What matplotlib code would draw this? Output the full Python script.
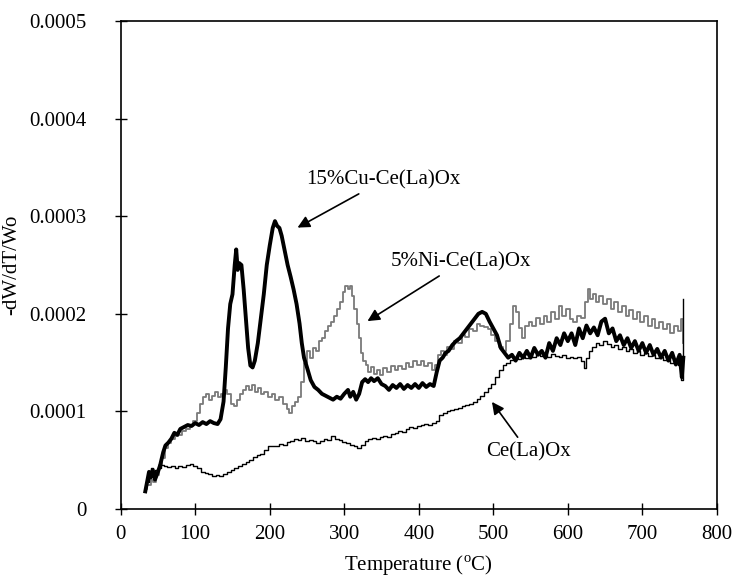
import numpy as np
import matplotlib
matplotlib.use("Agg")
import matplotlib.pyplot as plt

plt.rcParams['font.family'] = ['Liberation Serif', 'DejaVu Serif']
plt.rcParams['mathtext.fontset'] = 'custom'
plt.rcParams['mathtext.rm'] = 'Liberation Serif'

# DTG curves, -dW/dT/Wo in units of 1e-4
cu_T = [33, 36, 38, 40, 43, 46, 50, 53, 57, 60, 64, 68, 72, 76, 80, 85, 90, 95, 100, 105,
        110, 115, 120, 125, 130, 134, 138, 141, 144, 147, 150, 153, 155, 157, 159, 162, 165,
        168, 171, 174, 177, 180, 184, 188, 192, 196, 200, 204, 207, 210, 213, 216, 220, 224,
        228, 232, 236, 240, 243, 246, 250, 255, 260, 265, 270, 275, 280, 285, 290, 295, 300,
        305, 308, 312, 316, 320, 324, 328, 332, 336, 340, 345, 350, 355, 360, 365, 370, 375,
        380, 385, 390, 395, 400, 405, 410, 415, 420, 424, 428, 432, 436, 440, 445, 450, 455,
        460, 465, 470, 475, 480, 485, 490, 495, 500, 505, 510, 515, 520, 525, 530, 535, 540,
        545, 550, 555, 560, 565, 570, 575, 580, 585, 590, 595, 600, 605, 610, 615, 620, 625,
        630, 635, 640, 645, 650, 655, 660, 665, 670, 675, 680, 685, 690, 695, 700, 705, 710,
        715, 720, 725, 730, 735, 740, 745, 750, 753, 755]
cu_y = [0.18, 0.30, 0.38, 0.32, 0.40, 0.30, 0.38, 0.45, 0.58, 0.65, 0.68, 0.72, 0.78, 0.76,
        0.82, 0.84, 0.86, 0.85, 0.88, 0.86, 0.89, 0.87, 0.90, 0.88, 0.87, 0.92, 1.10, 1.45,
        1.85, 2.10, 2.20, 2.50, 2.66, 2.45, 2.52, 2.50, 2.25, 1.95, 1.65, 1.47, 1.45, 1.52,
        1.70, 1.95, 2.20, 2.50, 2.70, 2.88, 2.95, 2.90, 2.88, 2.80, 2.65, 2.50, 2.38, 2.25,
        2.10, 1.90, 1.70, 1.55, 1.45, 1.32, 1.25, 1.22, 1.18, 1.16, 1.14, 1.12, 1.15, 1.13,
        1.18, 1.22, 1.15, 1.20, 1.12, 1.18, 1.30, 1.33, 1.30, 1.34, 1.31, 1.34, 1.28, 1.26,
        1.22, 1.27, 1.24, 1.28, 1.23, 1.27, 1.24, 1.28, 1.24, 1.29, 1.25, 1.28, 1.26, 1.40,
        1.52, 1.55, 1.60, 1.62, 1.68, 1.72, 1.75, 1.80, 1.85, 1.90, 1.95, 2.00, 2.02, 2.00,
        1.92, 1.85, 1.78, 1.65, 1.60, 1.55, 1.58, 1.52, 1.60, 1.55, 1.62, 1.55, 1.65, 1.58,
        1.62, 1.55, 1.70, 1.62, 1.75, 1.68, 1.80, 1.72, 1.80, 1.68, 1.85, 1.75, 1.88, 1.80,
        1.86, 1.78, 1.92, 1.95, 1.80, 1.85, 1.72, 1.78, 1.68, 1.75, 1.65, 1.72, 1.62, 1.70,
        1.60, 1.68, 1.58, 1.64, 1.55, 1.62, 1.52, 1.60, 1.48, 1.58, 1.35, 1.55]

ni_T = [33, 38, 42, 46, 50, 54, 58, 62, 66, 70, 75, 80, 85, 90, 95, 100, 104, 108, 112, 116,
        120, 124, 128, 132, 136, 140, 145, 150, 154, 158, 162, 166, 170, 174, 178, 182, 186,
        190, 195, 200, 205, 210, 215, 220, 225, 228, 232, 236, 240, 244, 248, 252, 256, 260,
        264, 268, 272, 276, 280, 284, 288, 292, 296, 300, 303, 306, 309, 312, 315, 318, 321,
        324, 327, 330, 334, 338, 342, 346, 350, 355, 360, 365, 370, 375, 380, 385, 390, 395,
        400, 405, 410, 415, 420, 424, 428, 432, 436, 440, 445, 450, 455, 460, 465, 470, 475,
        480, 485, 490, 495, 500, 505, 510, 515, 520, 524, 528, 532, 536, 540, 545, 550, 555,
        560, 565, 570, 575, 580, 585, 590, 595, 600, 605, 610, 615, 620, 625, 628, 632, 636,
        640, 645, 650, 655, 660, 665, 670, 675, 680, 685, 690, 695, 700, 705, 710, 715, 720,
        725, 730, 735, 740, 745, 750, 753, 755]
ni_y = [0.20, 0.25, 0.30, 0.28, 0.35, 0.45, 0.52, 0.62, 0.68, 0.72, 0.75, 0.76, 0.80, 0.82,
        0.85, 0.90, 0.98, 1.08, 1.15, 1.18, 1.12, 1.16, 1.20, 1.15, 1.18, 1.22, 1.18, 1.08,
        1.05, 1.12, 1.18, 1.22, 1.26, 1.22, 1.27, 1.20, 1.24, 1.18, 1.20, 1.15, 1.18, 1.12,
        1.15, 1.08, 1.02, 0.98, 1.05, 1.10, 1.15, 1.30, 1.50, 1.62, 1.55, 1.65, 1.62, 1.72,
        1.75, 1.82, 1.88, 1.92, 1.98, 2.05, 2.12, 2.22, 2.28, 2.25, 2.28, 2.18, 2.05, 1.90,
        1.75, 1.60, 1.52, 1.48, 1.40, 1.45, 1.38, 1.42, 1.37, 1.44, 1.40, 1.46, 1.42, 1.47,
        1.43, 1.50, 1.45, 1.52, 1.48, 1.52, 1.46, 1.50, 1.42, 1.48, 1.58, 1.62, 1.58, 1.66,
        1.64, 1.72, 1.70, 1.78, 1.76, 1.84, 1.82, 1.90, 1.88, 1.86, 1.84, 1.78, 1.72, 1.66,
        1.62, 1.72, 1.90, 2.08, 2.02, 1.85, 1.75, 1.88, 1.92, 1.88, 1.96, 1.90, 1.98, 1.92,
        2.02, 1.95, 2.08, 1.98, 2.05, 1.95, 1.92, 1.98, 1.96, 2.12, 2.25, 2.15, 2.20, 2.12,
        2.18, 2.10, 2.15, 2.05, 2.12, 2.02, 2.08, 1.98, 2.04, 1.95, 2.02, 1.92, 1.98, 1.88,
        1.95, 1.85, 1.92, 1.84, 1.90, 1.80, 1.88, 1.82, 1.95, 1.70]

ce_T = [33, 36, 39, 42, 45, 48, 52, 56, 60, 65, 70, 75, 80, 85, 90, 95, 100, 105, 110, 115,
        120, 125, 130, 135, 140, 145, 150, 155, 160, 165, 170, 175, 180, 185, 190, 195, 200,
        205, 210, 215, 220, 225, 230, 235, 240, 245, 250, 255, 260, 265, 270, 275, 280, 285,
        290, 295, 300, 305, 310, 315, 320, 325, 330, 335, 340, 345, 350, 355, 360, 365, 370,
        375, 380, 385, 390, 395, 400, 405, 410, 415, 420, 425, 430, 435, 440, 445, 450, 455,
        460, 465, 470, 475, 480, 485, 490, 495, 500, 505, 510, 515, 520, 525, 530, 535, 540,
        545, 550, 555, 560, 565, 570, 575, 580, 585, 590, 595, 600, 605, 610, 615, 620, 623,
        626, 630, 635, 640, 645, 650, 655, 660, 665, 670, 675, 680, 685, 690, 695, 700, 705,
        710, 715, 720, 725, 730, 735, 740, 745, 750, 753, 755]
ce_y = [0.20, 0.28, 0.38, 0.42, 0.36, 0.40, 0.42, 0.45, 0.44, 0.43, 0.44, 0.42, 0.44, 0.43,
        0.45, 0.46, 0.44, 0.42, 0.38, 0.37, 0.36, 0.34, 0.35, 0.34, 0.36, 0.38, 0.40, 0.42,
        0.44, 0.46, 0.48, 0.50, 0.53, 0.55, 0.56, 0.60, 0.64, 0.65, 0.64, 0.67, 0.66, 0.69,
        0.70, 0.72, 0.71, 0.73, 0.70, 0.71, 0.70, 0.68, 0.70, 0.72, 0.71, 0.75, 0.72, 0.71,
        0.69, 0.68, 0.66, 0.64, 0.62, 0.66, 0.70, 0.72, 0.73, 0.72, 0.74, 0.75, 0.74, 0.77,
        0.78, 0.80, 0.79, 0.82, 0.84, 0.83, 0.85, 0.86, 0.87, 0.86, 0.88, 0.90, 0.96, 0.98,
        1.00, 1.01, 1.02, 1.03, 1.05, 1.07, 1.08, 1.10, 1.13, 1.16, 1.20, 1.24, 1.28, 1.35,
        1.42, 1.48, 1.50, 1.53, 1.55, 1.54, 1.56, 1.55, 1.58, 1.56, 1.59, 1.57, 1.58, 1.56,
        1.59, 1.57, 1.56, 1.58, 1.55, 1.56, 1.55, 1.56, 1.52, 1.44, 1.55, 1.62, 1.66, 1.70,
        1.68, 1.72, 1.69, 1.66, 1.68, 1.64, 1.66, 1.62, 1.64, 1.60, 1.62, 1.58, 1.60, 1.57,
        1.58, 1.55, 1.56, 1.53, 1.54, 1.50, 1.52, 1.48, 1.32, 2.15]

y_ticks = [0, 0.0001, 0.0002, 0.0003, 0.0004, 0.0005]
y_tick_labels = ['0', '0.0001', '0.0002', '0.0003', '0.0004', '0.0005']
x_ticks = [0, 100, 200, 300, 400, 500, 600, 700, 800]

fig = plt.figure(figsize=(7.36, 5.87), dpi=100)
ax = fig.add_axes([0.164, 0.133, 0.81, 0.831])

# staircase look of the sampled thermobalance signal
ax.plot(ni_T, np.array(ni_y) * 1e-4, color='#7a7a7a', lw=1.3, drawstyle='steps-mid')
ax.plot(ce_T, np.array(ce_y) * 1e-4, color='black', lw=1.0, drawstyle='steps-mid')
ax.plot(cu_T, np.array(cu_y) * 1e-4, color='black', lw=2.8)

ax.set_xlim(0, 800)
ax.set_ylim(0, 0.0005)
ax.set_xticks(x_ticks)
ax.set_yticks(y_ticks)
ax.set_yticklabels(y_tick_labels)
ax.tick_params(direction='inout', length=9, width=1, labelsize=15)
ax.tick_params(axis='y', pad=20)
ax.tick_params(axis='x', pad=7)
for s in ax.spines.values():
    s.set_linewidth(1.2)

ax.set_xlabel(r'Temperature ($^{\rm o}$C)', fontsize=15, labelpad=7)
ax.set_ylabel('-dW/dT/Wo', fontsize=15, labelpad=6)

arrow = dict(arrowstyle='-|>', color='black', lw=1.2, mutation_scale=18)
ax.annotate('15%Cu-Ce(La)Ox', xy=(234, 0.000287), xytext=(353, 0.000337),
            fontsize=15, ha='center', va='center', arrowprops=arrow)
ax.annotate('5%Ni-Ce(La)Ox', xy=(328, 0.000191), xytext=(457, 0.000253),
            fontsize=15, ha='center', va='center', arrowprops=arrow)
ax.annotate('Ce(La)Ox', xy=(496, 0.000112), xytext=(547, 0.0000585),
            fontsize=15, ha='center', va='center', arrowprops=arrow)

fig.savefig('out.png', dpi=100)
